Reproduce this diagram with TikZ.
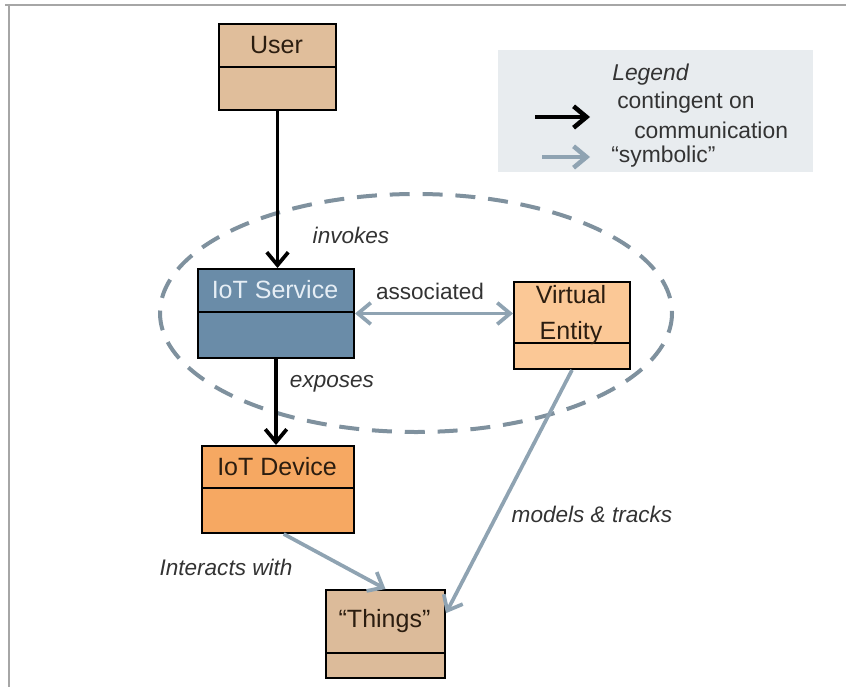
\documentclass[tikz,border=0pt]{standalone}
\usepackage{fontspec}
\setmainfont{Liberation Sans}
\usetikzlibrary{arrows.meta}

\definecolor{usertan}{HTML}{E0BE9B}
\definecolor{thingtan}{HTML}{DCBB9A}
\definecolor{servblue}{HTML}{6A8CA8}
\definecolor{servink}{HTML}{E6EEF5}
\definecolor{devorange}{HTML}{F6A862}
\definecolor{veorange}{HTML}{FBC896}
\definecolor{symbgray}{HTML}{8FA3B2}
\definecolor{ringgray}{HTML}{7F919E}
\definecolor{legendfill}{HTML}{E8ECEF}
\definecolor{labelink}{HTML}{333333}
\definecolor{boxink}{HTML}{2B1D10}
\definecolor{framegray}{HTML}{A6A6A6}

\begin{document}
\begin{tikzpicture}[x=0.7pt,y=-0.7pt]
	\tikzset{%
		box/.style={draw=black,line width=1.4pt,inner sep=0pt,anchor=north west},
		boxtext/.style={font=\fontsize{17.5}{20}\selectfont,text=boxink,align=center},
		lbl/.style={font=\fontsize{15.8}{18}\selectfont\itshape,text=labelink},
		legtext/.style={font=\fontsize{16}{18}\selectfont,text=labelink,anchor=west,inner sep=0pt},
		comm/.style={-{Straight Barb[length=9pt,width=15pt]},line width=2.6pt},
		symb/.style={-{Straight Barb[length=9pt,width=15pt]},line width=2.6pt,draw=symbgray},
	}

	\useasboundingbox (0,0) rectangle (847,687);

	% page frame
	\draw [framegray,line width=1.2pt] (5,5) -- (846,5);
	\draw [framegray,line width=1.2pt] (9,5) -- (9,687);

	% name, x, y, width, height, divider, options, text centre, text
	\newcommand*{\classbox}[9]{%
	\node [box,#7,minimum width=#4*0.7pt,minimum height=#5*0.7pt] (#1) at (#2,#3) {};
	\draw [line width=0.8pt] (#2,#3+#6) -- +(#4,0);
	\node [boxtext] (#1-name) at (#2+0.5*#4,#3+#8) {#9};
	}

	% legend
	\node [fill=legendfill,minimum width=315*0.7pt,minimum height=122*0.7pt,inner sep=0pt] (legend) at (655.5,111) {};
	\node [legtext,font=\fontsize{16}{18}\selectfont\itshape] (leg-title) at (612,75) {Legend};
	\node [legtext] (leg-comm1) at (617,103) {contingent on};
	\node [legtext] (leg-comm2) at (634,130) {communication};
	\node [legtext] (leg-symb) at (611,157) {“symbolic”};
	\coordinate (leg-a1) at (535,117);
	\coordinate (leg-a2) at (590,117);
	\coordinate (leg-b1) at (542,157);
	\coordinate (leg-b2) at (590,157);
	\draw [comm,line width=3.2pt] (leg-a1) -- (leg-a2);
	\draw [symb,line width=3.2pt] (leg-b1) -- (leg-b2);

	% the ring round service and entity
	\draw [ringgray,line width=2.8pt,dash pattern=on 14pt off 9pt] (416,313) ellipse [x radius=256, y radius=119];

	\classbox{user}{218}{23}{117}{86}{44}{fill=usertan}{22}{User}
	\classbox{service}{197}{268}{156}{89}{44}{fill=servblue}{22}{\color{servink}IoT Service}
	\classbox{entity}{513}{281}{116}{87}{62}{fill=veorange}{34}{Virtual\\[5pt]Entity}
	\classbox{device}{201}{445}{152}{87}{43}{fill=devorange}{21.5}{IoT Device}
	\classbox{things}{325}{589}{119}{88}{64}{fill=thingtan}{32}{“Things”}

	\draw [comm] (user.south) -- (user.south |- service.north);
	\draw [comm] (service.south) -- (service.south |- device.north);
	\draw [symb,{Straight Barb[length=9pt,width=15pt]}-{Straight Barb[length=9pt,width=15pt]}] (service.east) -- (service.east -| entity.west);
	\draw [symb] (entity.south) -- (things.19);
	\draw [symb] ([xshift=4pt]device.south) -- (things.north);

	\node [lbl] (invokes) at (351,235) {invokes};
	\node [lbl] (exposes) at (332,384) {exposes};
	\node [lbl,font=\fontsize{15.8}{18}\selectfont] (associated) at (430,291) {associated};
	\node [lbl] (models) at (592,514) {models \& tracks};
	\node [lbl] (interacts) at (226,567) {Interacts with};
\end{tikzpicture}
\end{document}
